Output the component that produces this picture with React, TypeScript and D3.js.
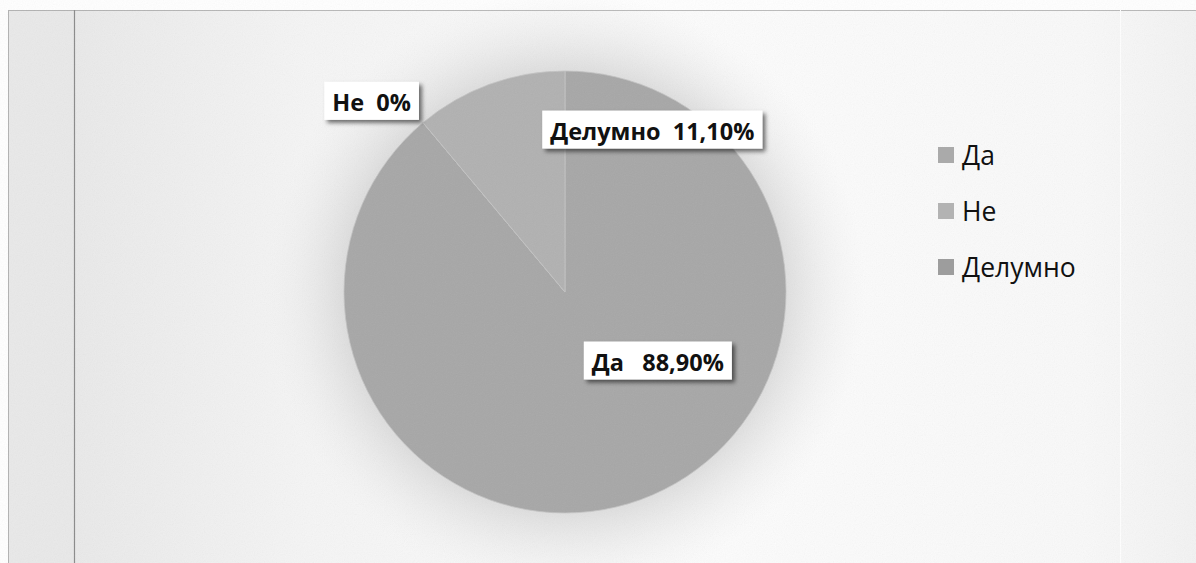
import React from "react";
import * as d3 from "d3";

const categories = ["Да", "Не", "Делумно"];
const values = [88.9, 0, 11.1];
const valueLabels = ["88,90%", "0%", "11,10%"];
const labelGaps = ["   ", "  ", "  "];
const colors = ["#a7a7a7", "#b1b1b1", "#b1b1b1"];
const legendColors = ["#aaaaaa", "#b3b3b3", "#9d9d9d"];
// label anchor in pie-radius units relative to pie centre
const labelAnchors: [number, number][] = [
  [0.42, 0.31],
  [-0.875, -0.865],
  [0.395, -0.735],
];

const W = 1196;
const H = 563;
const cx = 565;
const cy = 292;
const R = 221;

const LABEL_SIZE = 23.5;
const LABEL_FONT = `bold ${LABEL_SIZE}px 'Open Sans'`;
function measure(text: string, font: string): number {
  if (typeof document === "undefined") return text.length * 13;
  const c = document.createElement("canvas").getContext("2d");
  if (!c) return text.length * 13;
  c.font = font;
  return c.measureText(text).width;
}

export default function App() {
  const pie = d3.pie<number>().sort(null).startAngle(0).endAngle(2 * Math.PI)(values);
  const arc = d3.arc<d3.PieArcDatum<number>>().innerRadius(0).outerRadius(R);
  const font = "'Open Sans', sans-serif";
  const legendY = d3.scalePoint<string>().domain(categories).range([155, 267]);

  return (
    <div style={{ position: "absolute", left: 0, top: 0 }}>
      <svg width={W} height={H} style={{ display: "block" }}>
        <defs>
          <linearGradient id="bg" x1="0" x2="1" y1="0" y2="0">
            <stop offset="0" stopColor="#e6e6e6" />
            <stop offset="0.25" stopColor="#f5f5f5" />
            <stop offset="0.6" stopColor="#fcfcfc" />
            <stop offset="0.9" stopColor="#f9f9f9" />
            <stop offset="1" stopColor="#f2f2f2" />
          </linearGradient>
          <radialGradient id="halo" cx={cx} cy={cy} r={R + 80} gradientUnits="userSpaceOnUse">
            <stop offset="0.72" stopColor="#cfcfcf" stopOpacity="0.7" />
            <stop offset="1" stopColor="#eeeeee" stopOpacity="0" />
          </radialGradient>
          <filter id="shadow" x="-20%" y="-30%" width="140%" height="170%">
            <feDropShadow dx="3" dy="3" stdDeviation="2" floodColor="#000" floodOpacity="0.55" />
          </filter>
          <filter id="grain">
            <feTurbulence type="fractalNoise" baseFrequency="0.9" numOctaves="1" result="n" />
            <feColorMatrix type="saturate" values="0" />
            <feComponentTransfer>
              <feFuncA type="linear" slope="0.12" />
            </feComponentTransfer>
          </filter>
        </defs>
        <rect x={0} y={0} width={W} height={H} fill="#ffffff" />
        <rect x={8} y={10} width={W} height={H} fill="url(#bg)" />
        <rect x={8} y={10} width={66} height={H} fill="#e9e9e9" />
        <circle cx={cx} cy={cy} r={R + 80} fill="url(#halo)" />
        <rect x={8.5} y={10.5} width={W} height={H} fill="none" stroke="#7a7a7a" strokeWidth={1} strokeDasharray="1 1" />
        <line x1={74.5} x2={74.5} y1={10} y2={H} stroke="#8a8a8a" strokeWidth={1.2} />
        <line x1={1120.5} x2={1120.5} y1={10} y2={H} stroke="#ffffff" strokeWidth={1} />

        <g transform={`translate(${cx},${cy})`}>
          {pie.map((d, i) => (
            <path key={i} d={arc(d) || ""} fill={colors[i]} stroke="#c4c4c4" strokeWidth={0.8} />
          ))}
        </g>
        <rect x={0} y={0} width={W} height={H} filter="url(#grain)" opacity={0.8} />

        {pie.map((d, i) => {
          const lx = cx + labelAnchors[i][0] * R;
          const ly = cy + labelAnchors[i][1] * R;
          const text = `${categories[i]}${labelGaps[i]}${valueLabels[i]}`;
          const w = measure(text, LABEL_FONT) + 16;
          const h = 38;
          return (
            <g key={i}>
              <rect x={lx - w / 2} y={ly - h / 2} width={w} height={h} fill="#ffffff" filter="url(#shadow)" />
              <text
                x={lx}
                y={ly + 1}
                textAnchor="middle"
                dominantBaseline="central"
                fontFamily={font}
                fontWeight="bold"
                fontSize={LABEL_SIZE}
                fill="#111"
                style={{ whiteSpace: "pre" }}
              >
                {text}
              </text>
            </g>
          );
        })}

        {categories.map((c, i) => {
          const y = legendY(c) as number;
          return (
            <g key={c}>
              <rect x={938} y={y - 8} width={16} height={16} fill={legendColors[i]} />
              <text x={962} y={y} dominantBaseline="central" fontFamily={font} fontSize={26.5} fill="#111">
                {c}
              </text>
            </g>
          );
        })}
      </svg>
    </div>
  );
}
